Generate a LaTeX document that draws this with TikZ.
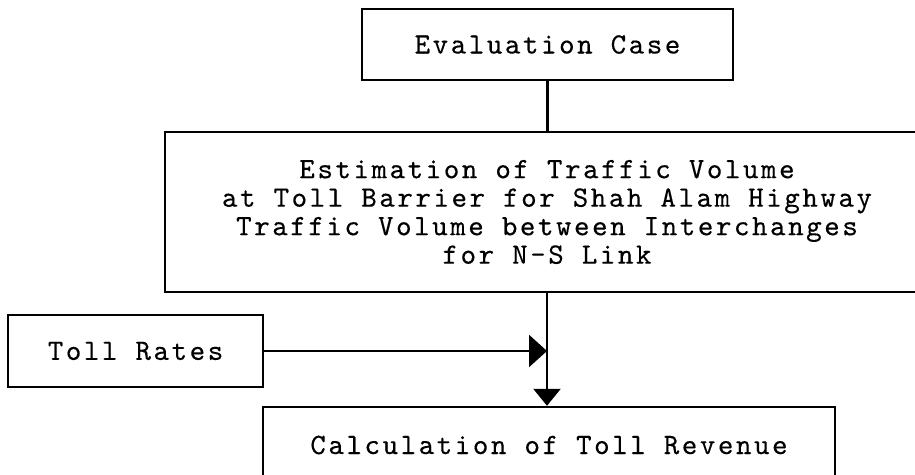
\documentclass[tikz,border=0pt]{standalone}
\usepackage{fontspec}
% typewriter face, widened to the spacing of the printed form
\newfontfamily\typewriter{lmmono10-regular.otf}[LetterSpace=8.7,FakeBold=0.3]
\usetikzlibrary{arrows.meta}
\begin{document}
\begin{tikzpicture}[x=1pt,y=-1pt,
  box/.style={draw, line width=2.4pt, inner sep=0pt, align=center,
    font=\fontsize{29.5}{28.5}\selectfont\typewriter},
  conn/.style={line width=2.4pt},
  rtip/.style={-{Triangle[width=32pt,length=18pt]}},
  dtip/.style={-{Triangle[width=27pt,length=17pt]}}]
\useasboundingbox (0,0) rectangle (915,474);
\fill[white] (0,0) rectangle (915,474);
\clip (0,0) rectangle (915,474);

% boxes of the flow
\node[box, minimum width=371pt, minimum height=71pt] (eval) at (547.5,44.5) {Evaluation Case};
\node[box, minimum width=764pt, minimum height=160pt] (est) at (547,212)
  {Estimation of Traffic Volume\\
   at Toll Barrier for Shah Alam Highway\\
   Traffic Volume between Interchanges\\
   for N-S Link};
\node[box, minimum width=255pt, minimum height=72pt] (toll) at (135.5,351) {Toll Rates};
\node[box, minimum width=572pt, minimum height=76pt] (calc) at (549,445) {Calculation of Toll Revenue};

% connectors
\draw[conn] (eval.south) -- (eval.south |- est.north);
\draw[conn, dtip] (est.south) -- (est.south |- calc.north);
\coordinate (join) at (est.south |- toll.east);
\draw[conn, rtip] (toll.east) -- (join);
\end{tikzpicture}
\end{document}
